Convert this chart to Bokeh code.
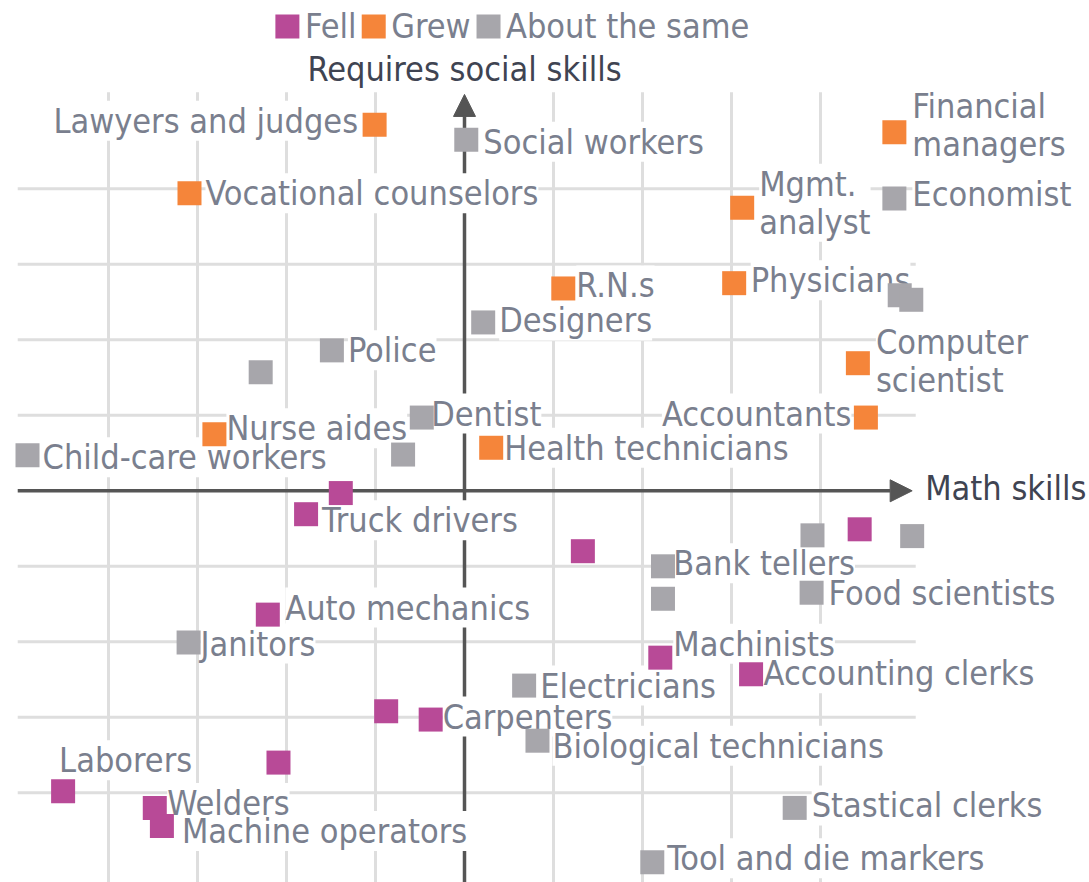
from bokeh.plotting import figure
from bokeh.models import Range1d, Arrow, NormalHead, ColumnDataSource
from bokeh.core.properties import value
from bokeh.embed import file_html
from bokeh.resources import INLINE

# ---------------- data ----------------
categories = ["Fell", "Grew", "About the same"]

fell_jobs = ["", "Truck drivers", "", "", "Auto mechanics", "Machinists",
             "Accounting clerks", "", "Carpenters", "", "Laborers", "Welders",
             "Machine operators"]
fell_math = [-1.39, -1.78, 1.33, 4.44, -2.21, 2.20, 3.22, -0.88, -0.38, -2.09,
             -4.51, -3.48, -3.40]
fell_social = [-0.03, -0.31, -0.80, -0.51, -1.64, -2.21, -2.43, -2.92, -3.03,
               -3.60, -3.98, -4.20, -4.44]

grew_jobs = ["Lawyers and judges", "Vocational counselors", "Financial\nmanagers",
             "Mgmt.\nanalyst", "R.N.s", "Physicians", "Computer\nscientist",
             "Accountants", "Nurse aides", "Health technicians"]
grew_math = [-1.01, -3.09, 4.83, 3.12, 1.11, 3.03, 4.42, 4.51, -2.81, 0.30]
grew_social = [4.85, 3.94, 4.75, 3.75, 2.68, 2.75, 1.69, 0.97, 0.75, 0.57]

same_jobs = ["Social workers", "Economist", "", "", "Designers", "Police", "",
             "Dentist", "", "Child-care workers", "", "", "Bank tellers", "",
             "Food scientists", "Janitors", "Electricians",
             "Biological technicians", "Stastical clerks", "Tool and die markers"]
same_math = [0.02, 4.83, 4.89, 5.02, 0.21, -1.49, -2.29, -0.48, -0.69, -4.91,
             3.91, 5.03, 2.23, 2.23, 3.90, -3.10, 0.67, 0.82, 3.71, 2.11]
same_social = [4.65, 3.87, 2.59, 2.53, 2.23, 1.86, 1.57, 0.97, 0.48, 0.47,
               -0.59, -0.60, -1.00, -1.43, -1.35, -2.01, -2.58, -3.31, -4.20, -4.92]

grid_ticks = [-4, -3, -2, -1, 1, 2, 3, 4]
x_title = "Math skills"
y_title = "Requires social skills"

# ---------------- layout / style ----------------
W, H = 1089, 882
COLORS = {"Fell": "#B84A97", "Grew": "#F5853A", "About the same": "#A7A6AB"}
FONT = value("'DejaVu Sans Condensed', 'Liberation Sans Narrow', sans-serif")
LABEL_COLOR = "#7a7f8e"
TITLE_COLOR = "#3f4452"
FS = "34px"
SQ = 24

# label offsets in pixels (dx, dy, align)
OFFS = {
    "Truck drivers": (16, 6, "left"), "Auto mechanics": (17.5, -7, "left"),
    "Machinists": (13, -14, "left"), "Accounting clerks": (12.5, -1, "left"),
    "Carpenters": (12, -3, "left"), "Laborers": (-4, -31, "left"),
    "Welders": (12.5, -5, "left"), "Machine operators": (20, 5, "left"),
    "Lawyers and judges": (-16.5, -4, "right"), "Vocational counselors": (16, 0, "left"),
    "Financial\nmanagers": (18, -7, "left"), "Mgmt.\nanalyst": (17, -5, "left"),
    "R.N.s": (13, -3, "left"), "Physicians": (16.5, -3, "left"),
    "Computer\nscientist": (18, -2, "left"), "Accountants": (-14.5, -4, "right"),
    "Nurse aides": (12, -6, "left"), "Health technicians": (13, 0, "left"),
    "Social workers": (17, 2, "left"), "Economist": (18, -5, "left"),
    "Designers": (16, -2, "left"), "Police": (16, 0, "left"),
    "Dentist": (9.4, -4, "left"), "Child-care workers": (15, 2, "left"),
    "Bank tellers": (10.4, -3, "left"), "Food scientists": (17, 0, "left"),
    "Janitors": (12, 1, "left"), "Electricians": (16, 0, "left"),
    "Biological technicians": (15, 5, "left"), "Stastical clerks": (17, -2.5, "left"),
    "Tool and die markers": (15, -4, "left"),
}

# pixel position of data origin and pixels per unit
X0, SX = 464, 89
Y0, SY = 490.3, 75.5
X_RANGE = (-X0 / SX, (W - X0) / SX)
Y_RANGE = ((Y0 - H) / SY, Y0 / SY)

p = figure(width=W, height=H, x_range=Range1d(*X_RANGE), y_range=Range1d(*Y_RANGE),
           output_backend="svg", toolbar_location=None, min_border=0,
           x_axis_location=None, y_axis_location=None)
p.outline_line_color = None
p.background_fill_color = "white"
p.border_fill_color = "white"
p.xgrid.visible = False
p.ygrid.visible = False

GRID_COLOR = "#dedede"
p.segment(x0=grid_ticks, x1=grid_ticks, y0=[Y_RANGE[0] - 1] * len(grid_ticks),
          y1=[5.28] * len(grid_ticks), line_color=GRID_COLOR, line_width=3, level="underlay")
p.segment(x0=[-5.02] * len(grid_ticks), x1=[5.07] * len(grid_ticks), y0=grid_ticks,
          y1=grid_ticks, line_color=GRID_COLOR, line_width=3, level="underlay")

AX = "#555555"
p.add_layout(Arrow(end=NormalHead(size=22, fill_color=AX, line_color=AX),
                   x_start=-5.02, y_start=0, x_end=5.03, y_end=0,
                   line_color=AX, line_width=3.5, level="underlay"))
p.add_layout(Arrow(end=NormalHead(size=22, fill_color=AX, line_color=AX),
                   x_start=0, y_start=Y_RANGE[0] - 1, x_end=0, y_end=5.25,
                   line_color=AX, line_width=3.5, level="underlay"))

series = [("Fell", fell_jobs, fell_math, fell_social),
          ("Grew", grew_jobs, grew_math, grew_social),
          ("About the same", same_jobs, same_math, same_social)]

label_sources = {}
for align in ("left", "right"):
    d = dict(x=[], y=[], text=[], dx=[], dy=[])
    for cat, jobs, xs, ys in series:
        for j, xv, yv in zip(jobs, xs, ys):
            if not j:
                continue
            dx, dy, al = OFFS[j]
            if al != align:
                continue
            d["x"].append(xv); d["y"].append(yv); d["text"].append(j)
            d["dx"].append(dx); d["dy"].append(dy)
    label_sources[align] = ColumnDataSource(d)

# pass 1: white knock-out boxes behind labels (hide grid/axis lines)
for align, src in label_sources.items():
    p.text(x="x", y="y", text="text", x_offset="dx", y_offset="dy", source=src,
           text_font=FONT, text_font_size=FS, text_alpha=0, text_align=align,
           text_baseline="middle", text_line_height=0.95,
           background_fill_color="white", padding=0)
# pass 2: label text
for align, src in label_sources.items():
    p.text(x="x", y="y", text="text", x_offset="dx", y_offset="dy", source=src,
           text_font=FONT, text_font_size=FS, text_color=LABEL_COLOR, text_align=align,
           text_baseline="middle", text_line_height=0.95)

# axis titles
p.text(x=[0], y=[5.593], text=[y_title], text_font=FONT, text_font_size=FS,
       text_color=TITLE_COLOR, text_align="center", text_baseline="middle")
p.text(x=[5.03], y=[0], text=[x_title], x_offset=13, y_offset=-3, text_font=FONT,
       text_font_size=FS, text_color=TITLE_COLOR, text_align="left", text_baseline="middle")

# squares
for cat, jobs, xs, ys in series:
    p.scatter(x=xs, y=ys, marker="square", size=SQ, fill_color=COLORS[cat],
              line_color=None)

# legend (horizontal, above plot)
LEG_X = [-1.99, -1.02, 0.27]
LEG_Y = 6.15
p.scatter(x=LEG_X, y=[LEG_Y] * 3, marker="square", size=SQ,
          fill_color=[COLORS[c] for c in categories], line_color=None)
p.text(x=LEG_X, y=[LEG_Y] * 3, text=categories, x_offset=17.5, text_font=FONT,
       text_font_size=FS, text_color=LABEL_COLOR, text_align="left", text_baseline="middle")

open("out.html", "w").write(file_html(p, INLINE))
